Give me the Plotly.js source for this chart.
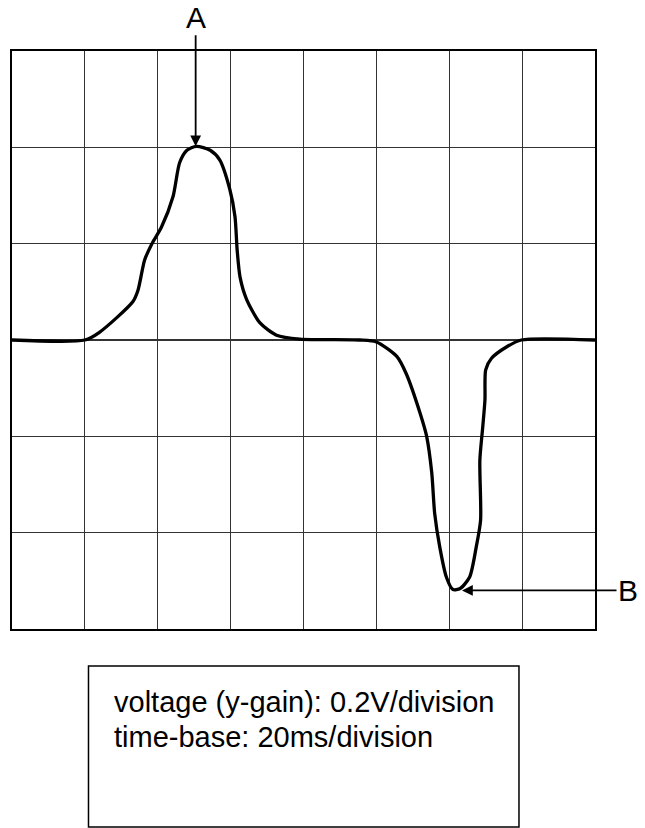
<!DOCTYPE html>
<html>
<head>
<meta charset="utf-8">
<script src="https://cdn.plot.ly/plotly-3.0.1.min.js"></script>
<style>html,body{margin:0;padding:0;background:#fff;}#chart{width:645px;height:828px;}</style>
</head>
<body>
<div id="chart"></div>
<script>
// time in ms (20 ms / division), voltage in V (0.2 V / division)
const time_ms = [0, 20, 24, 33.2, 34.6, 36.4, 38.4, 41, 44.2, 46, 48, 50.6, 54.4, 57, 59.8, 61.2, 61.8, 62.6, 64.4, 68, 72.6, 79, 95.4, 100, 105.6, 108.2, 112, 113.8, 115.2, 116, 117.4, 119.2, 121, 123, 125.6, 127.4, 128.6, 128.4, 129.2, 129.8, 130, 131.6, 135.8, 139.8, 160];
const voltage = [0, 0, 0.016, 0.08, 0.104, 0.166, 0.2, 0.234, 0.298, 0.368, 0.394, 0.402, 0.394, 0.374, 0.312, 0.256, 0.186, 0.13, 0.084, 0.036, 0.01, 0.002, 0, -0.004, -0.034, -0.07, -0.152, -0.2, -0.276, -0.36, -0.43, -0.492, -0.518, -0.516, -0.492, -0.43, -0.374, -0.25, -0.18, -0.124, -0.062, -0.038, -0.014, 0, 0];
const infoLines = ["voltage (y-gain): 0.2V/division", "time-base: 20ms/division"];
const markA = {label: "A", t: 50.4, v: 0.402};
const markB = {label: "B", t: 123.5, v: -0.52};

const trace = {
  x: time_ms, y: voltage, type: 'scatter', mode: 'lines',
  line: {color: '#000', width: 3.3, shape: 'spline', smoothing: 0.7},
  hoverinfo: 'skip'
};

const font = {family: 'Liberation Sans, Arial, Helvetica, sans-serif', size: 29, color: '#000'};
const labelFont = {family: 'Liberation Sans, Arial, Helvetica, sans-serif', size: 30, color: '#000'};

const layout = {
  width: 645, height: 828,
  margin: {l: 12, r: 50, t: 51, b: 199},
  paper_bgcolor: '#fff', plot_bgcolor: '#fff',
  showlegend: false,
  font: font,
  xaxis: {range: [0, 160], dtick: 20, tick0: 0, showgrid: true, gridcolor: '#333', gridwidth: 1.2,
          zeroline: false, showticklabels: false, ticks: '', showline: true, mirror: true,
          linecolor: '#000', linewidth: 2, fixedrange: true},
  yaxis: {range: [-0.6, 0.6], dtick: 0.2, tick0: 0, showgrid: true, gridcolor: '#333', gridwidth: 1.2,
          zeroline: false, showticklabels: false, ticks: '', showline: true, mirror: true,
          linecolor: '#000', linewidth: 2, fixedrange: true},
  shapes: [
    {type: 'rect', xref: 'paper', yref: 'paper', x0: 0.1312, x1: 0.8696, y0: -0.3426, y1: -0.064,
     line: {color: '#000', width: 1.5}, fillcolor: 'rgba(0,0,0,0)'}
  ],
  annotations: [
    {x: markA.t, y: markA.v, xref: 'x', yref: 'y', text: markA.label, showarrow: true,
     ax: 0, ay: -129, arrowhead: 2, arrowsize: 1.2, arrowwidth: 1.8, arrowcolor: '#000', font: labelFont},
    {x: markB.t, y: markB.v, xref: 'x', yref: 'y', text: markB.label, showarrow: true,
     ax: 166, ay: 0, arrowhead: 2, arrowsize: 1.2, arrowwidth: 1.8, arrowcolor: '#000', font: labelFont},
    {x: 0.1715, y: -0.127, xref: 'paper', yref: 'paper', xanchor: 'left', yanchor: 'middle',
     text: infoLines[0], showarrow: false, font: font},
    {x: 0.1715, y: -0.1876, xref: 'paper', yref: 'paper', xanchor: 'left', yanchor: 'middle',
     text: infoLines[1], showarrow: false, font: font}
  ]
};

Plotly.newPlot('chart', [trace], layout, {displayModeBar: false, staticPlot: true});
</script>
</body>
</html>
